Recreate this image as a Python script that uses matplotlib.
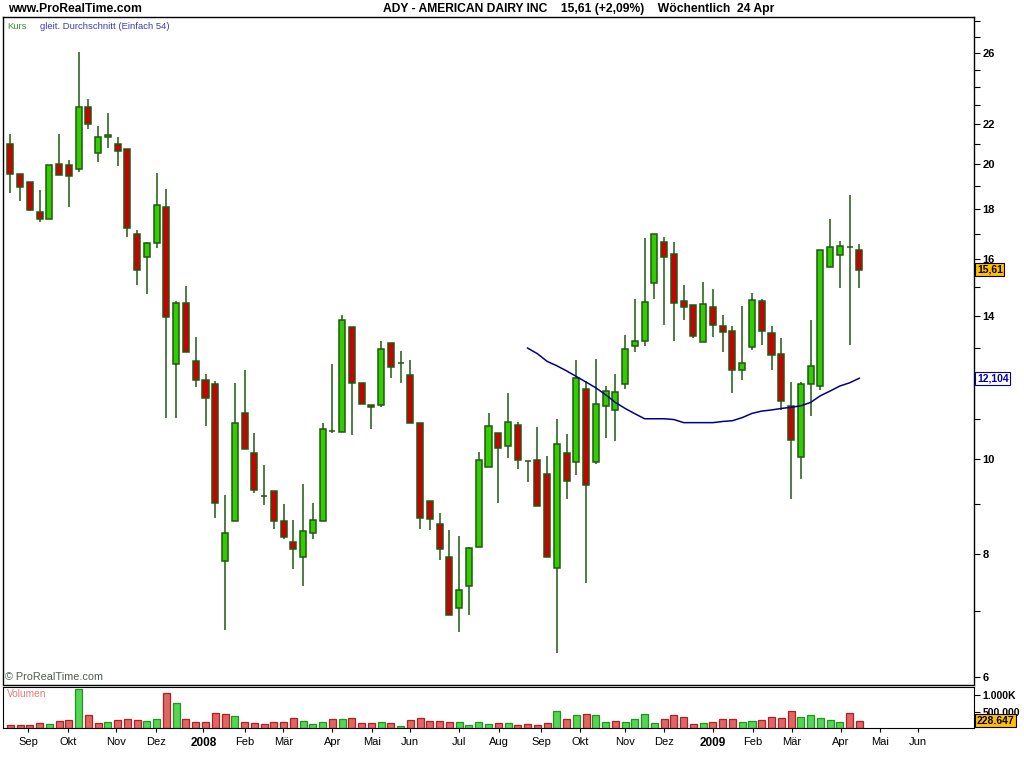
import numpy as np
import matplotlib
matplotlib.use("Agg")
import matplotlib.pyplot as plt
from matplotlib.ticker import NullFormatter

plt.rcParams['font.family'] = ['Liberation Sans', 'DejaVu Sans']

# ADY weekly candles, late Aug 2007 .. week of 24 Apr 2009
opens = [20.98, 19.55, 19.19, 17.88, 17.59, 20.02, 19.97, 19.78, 22.89, 20.54,
         21.32, 20.98, 20.73, 16.98, 16.08, 16.62, 18.09, 12.51, 14.44, 12.60,
         12.05, 11.94, 7.88, 8.65, 11.15, 10.15, 9.18, 9.28, 8.65, 8.24,
         7.95, 8.41, 8.65, 10.68, 10.66, 13.65, 11.97, 11.36, 11.36, 13.14,
         12.54, 12.18, 10.89, 9.06, 8.59, 7.95, 7.05, 7.42, 8.14, 9.82,
         10.64, 10.32, 10.84, 9.96, 9.98, 9.66, 7.75, 10.15, 9.94, 11.79,
         9.94, 11.33, 11.23, 11.94, 13.05, 13.21, 15.13, 16.66, 16.19, 14.51,
         14.37, 13.18, 14.30, 13.68, 13.52, 12.33, 13.02, 14.51, 13.45, 12.81,
         11.33, 10.05, 11.94, 11.88, 15.71, 16.17, 16.46, 16.35]
highs = [21.49, 19.55, 19.19, 18.84, 19.97, 21.49, 20.22, 26.06, 23.33, 21.90,
         22.58, 21.34, 20.73, 17.15, 16.67, 19.60, 18.87, 14.51, 15.03, 13.33,
         12.21, 12.02, 9.19, 11.97, 12.33, 10.64, 9.87, 9.28, 9.00, 8.68,
         9.44, 9.03, 10.89, 12.52, 14.05, 13.65, 11.97, 11.36, 13.22, 13.14,
         12.91, 12.64, 10.89, 9.06, 8.82, 8.46, 8.34, 8.14, 10.17, 11.15,
         10.64, 11.70, 10.92, 9.96, 10.79, 10.08, 10.99, 10.61, 12.63, 12.01,
         12.66, 11.89, 12.21, 13.40, 14.58, 16.82, 16.98, 16.86, 16.66, 15.06,
         14.37, 15.17, 14.92, 14.04, 13.69, 14.34, 14.80, 14.58, 13.69, 13.30,
         12.00, 12.00, 13.88, 16.35, 17.58, 16.69, 18.62, 16.58]
lows = [18.72, 18.37, 17.91, 17.45, 17.59, 19.51, 18.08, 19.67, 21.76, 20.14,
        20.81, 19.95, 16.88, 15.05, 14.74, 16.45, 11.01, 11.01, 12.87, 11.84,
        10.81, 8.71, 6.70, 8.65, 10.24, 9.23, 8.99, 8.49, 8.30, 7.72,
        7.43, 8.30, 8.65, 10.63, 10.66, 10.58, 11.39, 10.75, 11.31, 12.10,
        11.96, 10.89, 8.49, 8.47, 7.90, 6.93, 6.67, 6.93, 8.14, 9.82,
        9.03, 10.04, 9.77, 9.49, 8.96, 7.95, 6.34, 9.11, 9.63, 7.48,
        9.89, 10.52, 10.43, 11.79, 12.88, 13.05, 14.57, 13.70, 13.22, 13.86,
        13.30, 13.18, 13.33, 12.88, 11.68, 12.06, 12.92, 13.07, 12.34, 11.24,
        9.11, 9.54, 11.07, 11.77, 15.71, 14.95, 13.07, 14.95]
closes = [19.55, 18.96, 17.97, 17.59, 19.97, 19.51, 19.47, 22.89, 21.99, 21.32,
          21.42, 20.64, 17.22, 15.61, 16.62, 18.18, 13.97, 14.44, 12.87, 12.05,
          11.55, 9.02, 8.41, 10.89, 10.24, 9.30, 9.18, 8.65, 8.33, 8.10,
          8.45, 8.67, 10.74, 10.68, 13.87, 11.97, 11.39, 11.31, 12.96, 12.42,
          12.54, 10.89, 8.71, 8.69, 8.10, 6.93, 7.36, 8.12, 9.98, 10.82,
          10.27, 10.92, 9.98, 9.96, 8.96, 7.95, 10.37, 9.50, 12.10, 9.41,
          11.39, 11.73, 11.71, 12.96, 13.21, 14.47, 16.98, 16.10, 14.44, 14.30,
          13.36, 14.41, 13.72, 13.49, 12.33, 12.54, 14.54, 13.52, 12.78, 11.47,
          10.46, 11.94, 12.45, 16.35, 16.47, 16.50, 16.46, 15.61]
volume = [91000, 91000, 91000, 150000, 120000, 220000, 250000, 1180000, 390000, 150000,
          180000, 250000, 270000, 250000, 210000, 270000, 1060000, 760000, 270000, 180000,
          180000, 450000, 420000, 360000, 180000, 150000, 120000, 180000, 180000, 300000,
          210000, 120000, 180000, 270000, 270000, 300000, 150000, 150000, 180000, 150000,
          60000, 240000, 300000, 210000, 210000, 180000, 180000, 90000, 180000, 120000,
          150000, 150000, 90000, 120000, 90000, 150000, 520000, 270000, 390000, 420000,
          390000, 180000, 210000, 180000, 270000, 420000, 150000, 270000, 390000, 330000,
          120000, 150000, 180000, 270000, 270000, 180000, 210000, 240000, 330000, 300000,
          520000, 330000, 390000, 300000, 240000, 180000, 450000, 228647]

# simple moving average (54), starts with candle 53
ma_start = 53
ma54 = [12.99, 12.82, 12.59, 12.46, 12.31, 12.15, 11.99, 11.83, 11.64, 11.43,
        11.27, 11.13, 11.00, 11.00, 11.00, 10.98, 10.90, 10.90, 10.90, 10.90,
        10.93, 10.95, 11.03, 11.14, 11.20, 11.23, 11.27, 11.30, 11.34, 11.43,
        11.61, 11.74, 11.88, 11.97, 12.10]

month_pos = [1.84, 5.94, 10.86, 14.93, 19.78, 24.05, 27.97, 32.99, 37.03, 40.96, 46.0,
             50.07, 54.41, 58.41, 63.0, 67.0, 72.0, 76.07, 80.07, 85.1, 89.08, 93.0]
month_labels = ['Sep', 'Okt', 'Nov', 'Dez', '2008', 'Feb', 'Mär', 'Apr', 'Mai', 'Jun', 'Jul',
                'Aug', 'Sep', 'Okt', 'Nov', 'Dez', '2009', 'Feb', 'Mär', 'Apr', 'Mai', 'Jun']

price_ticks = [6, 8, 10, 14, 16, 18, 20, 22, 26]
last_price = 15.61
last_ma = 12.104
last_volume = 228647

EDGE = '#1f5a12'
UP = '#33cc00'
DOWN = '#cc0000'

W, H = 1024, 768
fig = plt.figure(figsize=(W / 100, H / 100), dpi=100)
ax = fig.add_axes([3.3 / W, 1 - 684.5 / H, 970.7 / W, 667.5 / H])
axv = fig.add_axes([3.3 / W, 1 - 728.3 / H, 970.7 / W, 41 / H], sharex=ax)

x = np.arange(len(closes))
o = np.array(opens)
c = np.array(closes)

# candles
ax.vlines(x, lows, highs, color=EDGE, lw=1.1, zorder=2)
body_col = np.where(c > o, UP, np.where(c < o, DOWN, EDGE))
ax.bar(x, np.abs(c - o), width=0.62, bottom=np.minimum(o, c), color=body_col,
       edgecolor=EDGE, linewidth=1.1, zorder=3)

# moving average
ax.plot(x[ma_start:], ma54, color='#00008b', lw=1.1, zorder=4)

ax.set_yscale('log')
ax.set_ylim(5.889, 28.29)
ax.set_xlim(-0.72, 98.75)
ax.yaxis.tick_right()
ax.set_yticks(price_ticks)
ax.set_yticklabels([str(t) for t in price_ticks])
ax.set_yticks(np.arange(6, 29), minor=True)
ax.yaxis.set_minor_formatter(NullFormatter())
ax.tick_params(axis='y', which='both', direction='out', length=4, width=0.8,
               pad=2, labelsize=8)
for lab in ax.get_yticklabels():
    lab.set_fontweight('bold')
ax.tick_params(axis='x', bottom=False, labelbottom=False)
for s in ax.spines.values():
    s.set_linewidth(1.0)

# value boxes on the right
ytr = ax.get_yaxis_transform()
ax.text(1.003, last_price, f'{last_price:.2f}'.replace('.', ','), transform=ytr,
        ha='left', va='center', fontsize=7.5, fontweight='bold', color='black',
        bbox=dict(boxstyle='square,pad=0.15', fc='#ffc000', ec='black', lw=0.8),
        clip_on=False, zorder=6)
ax.text(1.003, last_ma, f'{last_ma:.3f}'.replace('.', ','), transform=ytr,
        ha='left', va='center', fontsize=7.5, fontweight='bold', color='#0000aa',
        bbox=dict(boxstyle='square,pad=0.15', fc='white', ec='#0000aa', lw=0.8),
        clip_on=False, zorder=6)

# legend / notes inside price panel
ax.text(0.004, 0.992, 'Kurs', transform=ax.transAxes, ha='left', va='top',
        fontsize=6.8, color='#3c8c3c')
ax.text(0.038, 0.992, 'gleit. Durchschnitt (Einfach 54)', transform=ax.transAxes,
        ha='left', va='top', fontsize=6.8, color='#3c3cb4')
ax.text(0.002, 0.004, '© ProRealTime.com', transform=ax.transAxes, ha='left',
        va='bottom', fontsize=7.8, color='#4d5d4d')

# volume
vcol = [DOWN] + [UP if c[i] > c[i - 1] else DOWN for i in range(1, len(c))]
vfill = ['#55d455' if col == UP else '#e06666' for col in vcol]
vedge = ['#1e961e' if col == UP else '#b02020' for col in vcol]
axv.bar(x, volume, width=0.72, color=vfill, edgecolor=vedge, linewidth=0.9)
axv.set_ylim(0, 1.24e6)
axv.yaxis.tick_right()
axv.set_yticks([500000, 1000000])
axv.set_yticklabels(['500.000', '1.000K'])
axv.tick_params(axis='y', direction='out', length=4, width=0.8, pad=2, labelsize=7.5)
for lab in axv.get_yticklabels():
    lab.set_fontweight('bold')
axv.text(1.003, last_volume, f'{last_volume:,}'.replace(',', '.'),
         transform=axv.get_yaxis_transform(), ha='left', va='center', fontsize=7.5,
         fontweight='bold', color='black',
         bbox=dict(boxstyle='square,pad=0.15', fc='#ffc000', ec='black', lw=0.8),
         clip_on=False, zorder=6)
axv.text(0.004, 0.95, 'Volumen', transform=axv.transAxes, ha='left', va='top',
         fontsize=7.3, color='#e87a7a')

axv.set_xticks(month_pos)
axv.set_xticklabels(month_labels)
axv.tick_params(axis='x', direction='out', length=3, width=0.8, pad=3, labelsize=8)
for lab in axv.get_xticklabels():
    if lab.get_text().isdigit():
        lab.set_fontweight('bold')
        lab.set_fontsize(8.5)

# header
fig.text(8 / W, 1 - 9 / H, 'www.ProRealTime.com', ha='left', va='center',
         fontsize=8.7, fontweight='bold')
fig.text(383 / W, 1 - 9 / H,
         'ADY - AMERICAN DAIRY INC    15,61 (+2,09%)    Wöchentlich  24 Apr',
         ha='left', va='center', fontsize=8.7, fontweight='bold')

fig.savefig('out.png', dpi=100)
